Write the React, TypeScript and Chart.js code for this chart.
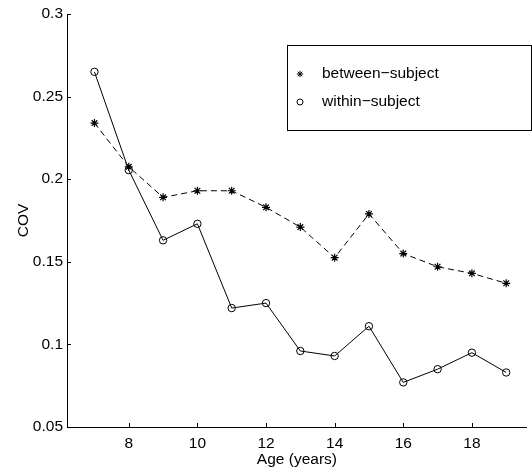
import React, { useEffect, useRef } from "react";
import { Chart, registerables } from "chart.js";

Chart.register(...registerables);

// Coefficient of variation by age
const ages = [7, 8, 9, 10, 11, 12, 13, 14, 15, 16, 17, 18, 19];
const betweenSubject = [0.234, 0.2075, 0.189, 0.193, 0.193, 0.183, 0.171, 0.1525, 0.179, 0.155, 0.147, 0.143, 0.137];
const withinSubject = [0.265, 0.2055, 0.163, 0.173, 0.122, 0.125, 0.096, 0.093, 0.111, 0.077, 0.085, 0.095, 0.083];

const xTicks = [8, 10, 12, 14, 16, 18];
const yTicks = [0.05, 0.1, 0.15, 0.2, 0.25, 0.3];
const yTickLabels = ["0.05", "0.1", "0.15", "0.2", "0.25", "0.3"];

const seriesNames = ["between\u2212subject", "within\u2212subject"];

const FONT = "'Liberation Sans', Arial, Helvetica, sans-serif";
const FONT_SIZE = 15.5;

function drawAsterisk(ctx: CanvasRenderingContext2D, x: number, y: number, r: number) {
  ctx.beginPath();
  for (let i = 0; i < 4; i++) {
    const a = (i * Math.PI) / 4;
    ctx.moveTo(x - Math.cos(a) * r, y - Math.sin(a) * r);
    ctx.lineTo(x + Math.cos(a) * r, y + Math.sin(a) * r);
  }
  ctx.stroke();
}

// Inward tick marks plus a boxed legend, drawn over the plot
const axesDecor = {
  id: "axesDecor",
  afterDraw(chart: any) {
    const ctx: CanvasRenderingContext2D = chart.ctx;
    const xs = chart.scales.x;
    const ys = chart.scales.y;
    const area = chart.chartArea;
    ctx.save();
    ctx.strokeStyle = "#000";
    ctx.lineWidth = 1;
    ctx.beginPath();
    xTicks.forEach((v) => {
      const px = Math.round(xs.getPixelForValue(v)) + 0.5;
      ctx.moveTo(px, area.bottom);
      ctx.lineTo(px, area.bottom - 4);
    });
    yTicks.forEach((v) => {
      const py = Math.round(ys.getPixelForValue(v)) + 0.5;
      ctx.moveTo(area.left, py);
      ctx.lineTo(area.left + 4, py);
    });
    ctx.stroke();

    // legend box
    const bx = 287.5;
    const by = 45.5;
    const bw = 244;
    const bh = 85;
    ctx.fillStyle = "#fff";
    ctx.fillRect(bx, by, bw, bh);
    ctx.strokeRect(bx, by, bw, bh);

    const rowY = [74, 102];
    drawAsterisk(ctx, 300, rowY[0], 3.2);
    ctx.beginPath();
    ctx.arc(300, rowY[1], 3, 0, Math.PI * 2);
    ctx.stroke();

    ctx.fillStyle = "#000";
    ctx.font = `${FONT_SIZE}px ${FONT}`;
    ctx.textAlign = "left";
    ctx.textBaseline = "middle";
    ctx.fillText(seriesNames[0], 322, rowY[0]);
    ctx.fillText(seriesNames[1], 322, rowY[1]);
    ctx.restore();
  },
};

export default function App() {
  const canvasRef = useRef<HTMLCanvasElement | null>(null);

  useEffect(() => {
    if (!canvasRef.current) return;
    const chart = new Chart(canvasRef.current, {
      type: "line",
      data: {
        datasets: [
          {
            label: seriesNames[0],
            data: ages.map((a, i) => ({ x: a, y: betweenSubject[i] })),
            borderColor: "#000",
            borderWidth: 1,
            borderDash: [6, 4],
            pointStyle: "star",
            pointRadius: 4,
            pointBorderColor: "#000",
            pointBorderWidth: 1.2,
            pointBackgroundColor: "#000",
            tension: 0,
          },
          {
            label: seriesNames[1],
            data: ages.map((a, i) => ({ x: a, y: withinSubject[i] })),
            borderColor: "#000",
            borderWidth: 1,
            pointStyle: "circle",
            pointRadius: 3.7,
            pointBorderColor: "#000",
            pointBorderWidth: 1,
            pointBackgroundColor: "rgba(0,0,0,0)",
            tension: 0,
          },
        ],
      },
      options: {
        responsive: false,
        animation: false,
        events: [],
        layout: { padding: { top: 14, left: 0, right: 0, bottom: 0 } },
        plugins: {
          legend: { display: false },
          tooltip: { enabled: false },
        },
        scales: {
          x: {
            type: "linear",
            min: 6.2,
            max: 19.6,
            afterBuildTicks: (s: any) => {
              s.ticks = xTicks.map((v) => ({ value: v }));
            },
            afterFit: (s: any) => {
              s.height = 48;
            },
            grid: { display: true, drawOnChartArea: false, drawTicks: false },
            border: { display: true, color: "#000", width: 1 },
            ticks: {
              color: "#000",
              padding: 7,
              maxRotation: 0,
              autoSkip: false,
              font: { family: FONT, size: FONT_SIZE },
              callback: (v: any) => String(v),
            },
            title: {
              display: true,
              text: "Age (years)",
              color: "#000",
              font: { family: FONT, size: FONT_SIZE },
              padding: { top: 0, bottom: 6 },
            },
          },
          y: {
            type: "linear",
            min: 0.05,
            max: 0.3,
            afterBuildTicks: (s: any) => {
              s.ticks = yTicks.map((v) => ({ value: v }));
            },
            afterFit: (s: any) => {
              s.width = 67;
            },
            grid: { display: true, drawOnChartArea: false, drawTicks: false },
            border: { display: true, color: "#000", width: 1 },
            ticks: {
              color: "#000",
              padding: 4,
              autoSkip: false,
              font: { family: FONT, size: FONT_SIZE },
              callback: (v: any) => {
                const i = yTicks.findIndex((t) => Math.abs(t - Number(v)) < 1e-9);
                return i >= 0 ? yTickLabels[i] : "";
              },
            },
            title: {
              display: true,
              text: "COV",
              color: "#000",
              font: { family: FONT, size: FONT_SIZE },
              padding: { top: 14, bottom: 0 },
            },
          },
        },
      },
      plugins: [axesDecor],
    });
    return () => chart.destroy();
  }, []);

  return (
    <div style={{ position: "absolute", left: 0, top: 0, width: 532, height: 475, background: "#fff" }}>
      <canvas ref={canvasRef} width={532} height={475} style={{ display: "block" }} />
    </div>
  );
}
